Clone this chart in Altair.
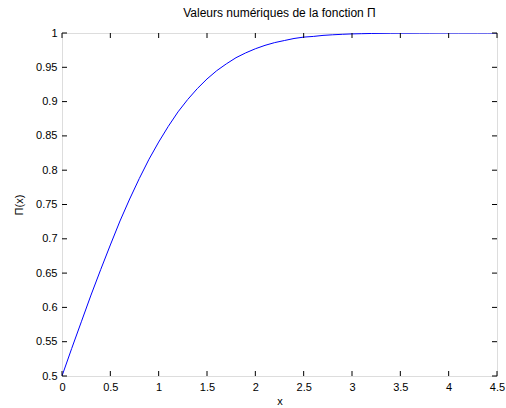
import altair as alt
import pandas as pd

xs = [round(i * 0.1, 1) for i in range(46)]
pi_vals = [0.500, 0.540, 0.579, 0.618, 0.655, 0.691, 0.726, 0.758, 0.788, 0.816,
           0.841, 0.864, 0.885, 0.903, 0.919, 0.933, 0.945, 0.955, 0.964, 0.971,
           0.977, 0.982, 0.986, 0.989, 0.992, 0.994, 0.995, 0.9965, 0.9974, 0.9981,
           0.9987, 0.9990, 0.9993, 0.9995, 0.9997, 0.9998, 0.9998, 0.9999, 0.9999, 1.0,
           1.0, 1.0, 1.0, 1.0, 1.0, 1.0]
x_ticks = [0, 0.5, 1, 1.5, 2, 2.5, 3, 3.5, 4, 4.5]
y_ticks = [0.5, 0.55, 0.6, 0.65, 0.7, 0.75, 0.8, 0.85, 0.9, 0.95, 1.0]

W, H = 435, 343
df = pd.DataFrame({"x": xs, "y": pi_vals})
xt = pd.DataFrame({"t": x_ticks})
yt = pd.DataFrame({"t": y_ticks})

xscale = alt.Scale(domain=[0, 4.5], nice=False, zero=False)
yscale = alt.Scale(domain=[0.5, 1.0], nice=False, zero=False)
font = "Liberation Sans"

line = alt.Chart(df).mark_line(color="#0000ff", strokeWidth=1, clip=True).encode(
    x=alt.X("x:Q", scale=xscale, axis=alt.Axis(
        values=x_ticks, title="x", tickSize=0, labelPadding=5, grid=False,
        domain=False, labelFont=font, labelFontSize=11, labelColor="black",
        titleFont=font, titleFontSize=11, titleFontWeight="normal", titlePadding=3,
        labelFlush=False, labelOverlap=False, format="~g")),
    y=alt.Y("y:Q", scale=yscale, axis=alt.Axis(
        values=y_ticks, title="Π(x)", tickSize=0, labelPadding=5, grid=False,
        domain=False, labelFont=font, labelFontSize=11, labelColor="black",
        titleFont=font, titleFontSize=11, titleFontWeight="normal", titlePadding=11,
        labelFlush=False, labelOverlap=False, format="~g")),
)

tick_len = 5
xb = alt.Chart(xt).mark_rule(color="black", strokeWidth=1).encode(
    x=alt.X("t:Q", scale=xscale, axis=None), y=alt.value(H), y2=alt.value(H - tick_len))
xtp = alt.Chart(xt).mark_rule(color="black", strokeWidth=1).encode(
    x=alt.X("t:Q", scale=xscale, axis=None), y=alt.value(0), y2=alt.value(tick_len))
yl = alt.Chart(yt).mark_rule(color="black", strokeWidth=1).encode(
    y=alt.Y("t:Q", scale=yscale, axis=None), x=alt.value(0), x2=alt.value(tick_len))
yr = alt.Chart(yt).mark_rule(color="black", strokeWidth=1).encode(
    y=alt.Y("t:Q", scale=yscale, axis=None), x=alt.value(W), x2=alt.value(W - tick_len))

chart = alt.layer(line, xb, xtp, yl, yr).resolve_axis(
    x="independent", y="independent"
).properties(
    width=W, height=H,
    title=alt.Title("Valeurs numériques de  la fonction Π", font=font, fontSize=12,
                    fontWeight="normal", offset=7),
    autosize=alt.AutoSizeParams(type="none"),
    padding={"left": 62, "top": 33, "right": 9, "bottom": 32},
).configure_view(stroke="black", strokeWidth=1).configure(background="white")

chart.save("out.html", embed_options={"renderer": "svg", "actions": False})
